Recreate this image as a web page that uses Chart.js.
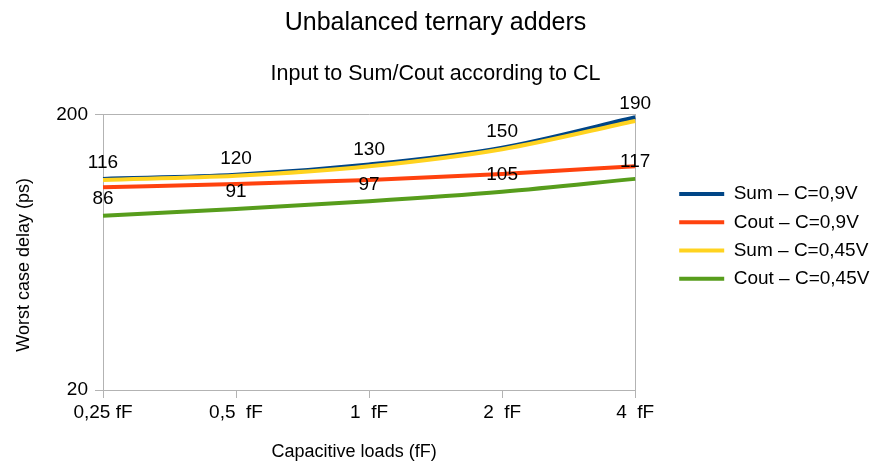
<!DOCTYPE html>
<html><head><meta charset="utf-8">
<script src="https://cdn.jsdelivr.net/npm/chart.js@4/dist/chart.umd.min.js"></script>
<style>html,body{margin:0;padding:0;background:#fff}#wrap{width:871px;height:464px}</style>
</head><body><div id="wrap"><canvas id="c" width="871" height="464"></canvas></div>
<script>
const categories = ['0,25 fF', '0,5  fF', '1  fF', '2  fF', '4  fF'];
const sumC09 = [117, 121, 132, 152, 196];
const coutC09 = [109, 112, 116, 122, 130];
const sumC045 = [116, 120, 130, 150, 190];
const coutC045 = [86, 91, 97, 105, 117];
const yTickValues = [20, 200];
const seriesNames = ['Sum – C=0,9V', 'Cout – C=0,9V', 'Sum – C=0,45V', 'Cout – C=0,45V'];
const seriesColors = ['#004586', '#ff420e', '#ffd320', '#579d1c'];

const FONT = "'Liberation Sans', Arial, sans-serif";
Chart.defaults.font.family = FONT;
Chart.defaults.color = '#000';
const AXIS = '#b3b3b3';

const pointLabels = {
  id: 'pointLabels',
  afterDatasetsDraw(chart) {
    const ctx = chart.ctx;
    ctx.save();
    ctx.font = '19px ' + FONT;
    ctx.fillStyle = '#000';
    ctx.textAlign = 'center';
    ctx.textBaseline = 'middle';
    chart.data.datasets.forEach((ds, i) => {
      if (!ds.showLabels) return;
      const meta = chart.getDatasetMeta(i);
      meta.data.forEach((pt, j) => {
        ctx.fillText(String(ds.data[j]), pt.x, pt.y - 17);
      });
    });
    ctx.restore();
  }
};

function makeSet(i, data, order, labels) {
  return {
    label: seriesNames[i], data: data,
    borderColor: seriesColors[i], backgroundColor: seriesColors[i],
    borderWidth: 4, pointRadius: 0, pointHoverRadius: 0,
    cubicInterpolationMode: 'monotone', fill: false,
    order: order, showLabels: labels, yAxisID: 'y'
  };
}

new Chart(document.getElementById('c'), {
  type: 'line',
  data: {
    labels: categories,
    datasets: [
      makeSet(0, sumC09, 4, false),
      makeSet(1, coutC09, 3, false),
      makeSet(2, sumC045, 2, true),
      makeSet(3, coutC045, 1, true)
    ]
  },
  options: {
    responsive: false,
    animation: false,
    events: [],
    layout: { padding: 0 },
    plugins: {
      title: { display: true, text: 'Unbalanced ternary adders', color: '#000',
        font: { size: 25, weight: 'normal' }, padding: { top: 8, bottom: 8 } },
      subtitle: { display: true, text: 'Input to Sum/Cout according to CL', color: '#000',
        font: { size: 21.5, weight: 'normal' }, padding: { top: 15, bottom: 28 } },
      legend: {
        position: 'right', align: 'start', fullSize: false, maxWidth: 201,
        title: { display: true, text: ' ', font: { size: 10 }, padding: { top: 48.6, bottom: 0 } },
        labels: {
          boxWidth: 45, boxHeight: 4, padding: 9.2, color: '#000',
          font: { size: 19 },
          sort: (a, b) => a.datasetIndex - b.datasetIndex,
          generateLabels: (chart) => Chart.defaults.plugins.legend.labels.generateLabels(chart)
            .map(it => Object.assign(it, { lineWidth: 0, fillStyle: it.strokeStyle }))
        }
      },
      tooltip: { enabled: false }
    },
    scales: {
      x: {
        type: 'category', offset: false,
        grid: { drawOnChartArea: false, tickLength: 8, color: AXIS, tickColor: AXIS },
        border: { color: AXIS, width: 1 },
        ticks: { maxRotation: 0, autoSkip: false, padding: 3, font: { size: 19 }, color: '#000' },
        title: { display: true, text: 'Capacitive loads (fF)      ', font: { size: 18 }, color: '#000',
          padding: { top: 0, bottom: 1.2 } },
        afterFit: (s) => { s.height = 74; }
      },
      y: {
        type: 'logarithmic', position: 'left', min: 20, max: 200,
        afterBuildTicks: (s) => { s.ticks = yTickValues.map(v => ({ value: v })); },
        grid: { tickLength: 8, color: AXIS, tickColor: AXIS },
        border: { color: AXIS, width: 1 },
        ticks: { padding: 7, font: { size: 19 }, color: '#000', callback: (v) => String(v) },
        title: { display: true, text: 'Worst case delay (ps)     ', font: { size: 18 }, color: '#000',
          padding: { top: 13, bottom: 0 } },
        afterFit: (s) => { s.width = 103; }
      },
      y2: {
        type: 'linear', position: 'right', display: true,
        grid: { drawOnChartArea: false, drawTicks: false, color: AXIS },
        border: { color: AXIS, width: 1 },
        ticks: { display: false },
        afterFit: (s) => { s.width = 34.8; }
      }
    }
  },
  plugins: [pointLabels]
});
</script>
</body></html>
